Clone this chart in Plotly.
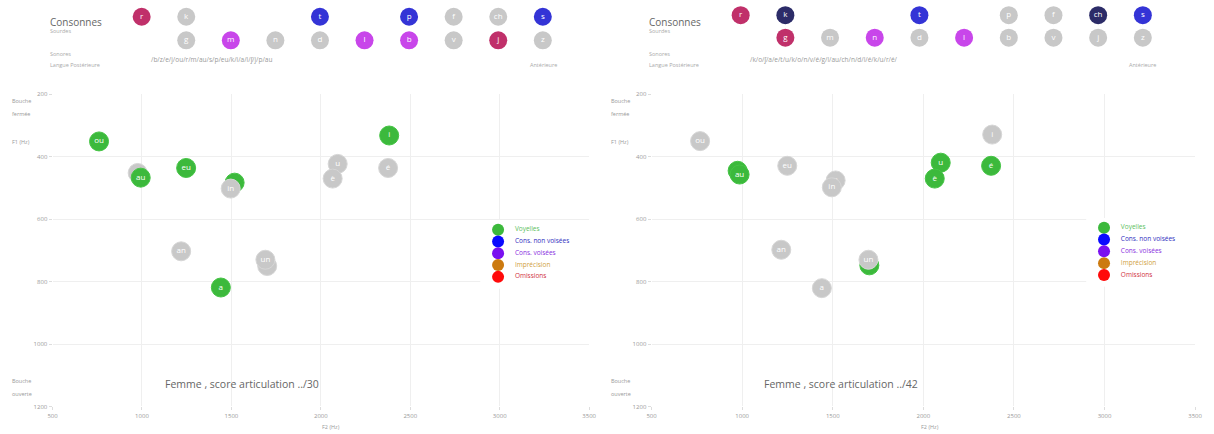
import plotly.graph_objects as go

W, H = 1214, 434

# ---------------- data ----------------
# consonant grid (columns from "langue postérieure" to "antérieure")
CONS_TOP = ["r", "k", "", "", "t", "", "p", "f", "ch", "s"]
CONS_BOT = ["", "g", "m", "n", "d", "l", "b", "v", "j", "z"]
L_TOP_STATE = ["err", "ok", "", "", "nv", "", "nv", "ok", "ok", "nv"]
L_BOT_STATE = ["", "ok", "v", "ok", "ok", "v", "v", "ok", "err", "ok"]
R_TOP_STATE = ["err", "dark", "", "", "nv", "", "ok", "ok", "dark", "nv"]
R_BOT_STATE = ["", "err", "ok", "v", "ok", "v", "ok", "ok", "ok", "ok"]

# vowels, left chart (F2, F1 in Hz), state: "voy" = green, "ok" = grey
# (labels left empty where the circle is hidden behind another one)
L_VOW = ["", "au", "ou", "eu", "", "in", "an", "", "un", "a", "u", "è", "é", "i"]
L_F2 = [976, 993, 760, 1247, 1518, 1496, 1219, 1700, 1690, 1441, 2094, 2066, 2376, 2382]
L_F1 = [452, 467, 351, 436, 483, 502, 703, 750, 730, 819, 423, 470, 436, 332]
L_STATE = ["ok", "voy", "voy", "voy", "voy", "ok", "ok", "ok", "ok", "voy", "ok", "ok", "ok", "voy"]

# vowels, right chart
R_VOW = ["ou", "", "au", "eu", "e", "in", "an", "", "un", "a", "u", "è", "é", "i"]
R_F2 = [768, 975, 986, 1249, 1516, 1495, 1216, 1702, 1697, 1440, 2096, 2063, 2374, 2380]
R_F1 = [350, 445, 457, 429, 476, 498, 698, 748, 730, 821, 419, 470, 429, 329]
R_STATE = ["ok", "voy", "voy", "ok", "ok", "ok", "ok", "voy", "ok", "ok", "voy", "voy", "voy", "ok"]

LEGEND_LABELS = ["Voyelles", "Cons. non voisées", "Cons. voisées", "Imprécision", "Omissions"]
X_TICKS = [500, 1000, 1500, 2000, 2500, 3000, 3500]
Y_TICKS = [200, 400, 600, 800, 1000, 1200]
L_PHON = "/b/z/e/j/ou/r/m/au/s/p/eu/k/i/a/l/ʃ/j/p/au"
R_PHON = "/k/o/ʃ/a/e/t/u/k/o/n/v/é/g/l/au/ch/n/d/l/é/k/u/r/é/"
L_SCORE = "Femme , score articulation ../30"
R_SCORE = "Femme , score articulation ../42"

# ---------------- styles ----------------
STATE_COL = {"ok": "#c8c8c8", "voy": "#3cb93c", "nv": "#3434d6", "v": "#c846ea",
             "err": "#c0306a", "dark": "#2c2c68"}
LEG_MARK = ["#3cb93c", "#0a0aff", "#7a10f0", "#cc7a10", "#ff0a0a"]
LEG_TXT = ["#5cc05c", "#3030c0", "#8a30e0", "#d0a040", "#d03040"]
FONT = "Open Sans, Arial, sans-serif"


def pxx(x):
    return x / W


def pyy(y):
    return 1 - y / H


fig = go.Figure()


def cons_trace(states, labels, row, xa, ya):
    xs, ys, cs, ts = [], [], [], []
    for i, (s, t) in enumerate(zip(states, labels)):
        if s:
            xs.append(i); ys.append(row); cs.append(STATE_COL[s]); ts.append(t)
    fig.add_trace(go.Scatter(
        x=xs, y=ys, text=ts, mode="markers+text", xaxis=xa, yaxis=ya,
        marker=dict(size=18, color=cs, line=dict(width=0)),
        textfont=dict(color="white", size=8, family=FONT),
        textposition="middle center", hoverinfo="skip", showlegend=False))


def vowel_traces(f2, f1, labels, states, xa, ya):
    # one trace per vowel so that later circles hide earlier labels
    for x, y, t, s in zip(f2, f1, labels, states):
        fig.add_trace(go.Scatter(
            x=[x], y=[y], text=[t], mode="markers+text", xaxis=xa, yaxis=ya,
            marker=dict(size=19, color=STATE_COL[s],
                        line=dict(width=1, color="#d6d6d6" if s == "ok" else "#45c445")),
            textfont=dict(color="white", size=8, family=FONT),
            textposition="middle center", hoverinfo="skip", showlegend=False))


def legend_traces(xa, ya):
    rows = list(range(len(LEGEND_LABELS)))
    fig.add_trace(go.Scatter(
        x=[18] * len(rows), y=rows, mode="markers", xaxis=xa, yaxis=ya,
        marker=dict(size=12, color=LEG_MARK), hoverinfo="skip", showlegend=False))
    fig.add_trace(go.Scatter(
        x=[35] * len(rows), y=rows, mode="text", text=LEGEND_LABELS, xaxis=xa, yaxis=ya,
        textposition="middle right", textfont=dict(color=LEG_TXT, size=6.5, family=FONT),
        hoverinfo="skip", showlegend=False))


# left panel
cons_trace(L_TOP_STATE, CONS_TOP, 1, "x3", "y3")
cons_trace(L_BOT_STATE, CONS_BOT, 0, "x3", "y3")
vowel_traces(L_F2, L_F1, L_VOW, L_STATE, "x", "y")
legend_traces("x5", "y5")
# right panel
cons_trace(R_TOP_STATE, CONS_TOP, 1, "x4", "y4")
cons_trace(R_BOT_STATE, CONS_BOT, 0, "x4", "y4")
vowel_traces(R_F2, R_F1, R_VOW, R_STATE, "x2", "y2")
legend_traces("x6", "y6")

axis_common = dict(showline=False, zeroline=False, gridcolor="#efefef", gridwidth=1,
                   ticks="outside", ticklen=3, tickcolor="#dddddd",
                   tickfont=dict(size=6, color="#999999", family=FONT), fixedrange=True)
ydom = [pyy(410), pyy(92)]
hidden = dict(visible=False, showgrid=False, zeroline=False, fixedrange=True)

fig.update_layout(
    width=W, height=H, margin=dict(l=0, r=0, t=0, b=0),
    paper_bgcolor="white", plot_bgcolor="white", showlegend=False,
    font=dict(family=FONT),
    xaxis=dict(domain=[pxx(48), pxx(590)], range=[500, 3500], tickvals=X_TICKS, anchor="y", **axis_common),
    yaxis=dict(domain=ydom, range=[1200, 200], tickvals=Y_TICKS, anchor="x", **axis_common),
    xaxis2=dict(domain=[pxx(653), pxx(1202)], range=[500, 3500], tickvals=X_TICKS, anchor="y2", **axis_common),
    yaxis2=dict(domain=ydom, range=[1200, 200], tickvals=Y_TICKS, anchor="x2", **axis_common),
    xaxis3=dict(domain=[pxx(48), pxx(590)], range=[-2, 10.04], anchor="y3", **hidden),
    yaxis3=dict(domain=[pyy(50), 1], range=[-0.542, 1.542], anchor="x3", **hidden),
    xaxis4=dict(domain=[pxx(653), pxx(1202)], range=[-1.995, 10.17], anchor="y4", **hidden),
    yaxis4=dict(domain=[pyy(48), 1], range=[-0.6, 1.5], anchor="x4", **hidden),
    xaxis5=dict(domain=[pxx(480), pxx(600)], range=[0, 120], anchor="y5", **hidden),
    yaxis5=dict(domain=[pyy(290), pyy(220)], range=[5, -0.8333], anchor="x5", **hidden),
    xaxis6=dict(domain=[pxx(1092), pxx(1212)], range=[0, 120], anchor="y6", **hidden),
    yaxis6=dict(domain=[pyy(288), pyy(218)], range=[5, -0.8333], anchor="x6", **hidden),
)

ann = []


def txt(x, y, s, size, color="#888888", xanchor="left"):
    ann.append(dict(x=pxx(x), y=pyy(y), xref="paper", yref="paper", text=s, showarrow=False,
                    xanchor=xanchor, yanchor="middle", font=dict(size=size, color=color, family=FONT)))


for off, phon, score in [(0, L_PHON, L_SCORE), (605, R_PHON, R_SCORE)]:
    txt(43 + off, 18, "Consonnes", 10, "#666666")
    txt(43 + off, 28, "Sourdes", 5.5, "#aaaaaa")
    txt(43 + off, 51, "Sonores", 5.5, "#aaaaaa")
    txt(43 + off, 62, "Langue Postérieure", 5.5, "#aaaaaa")
    txt(145 + off, 57, phon, 6.5, "#999999")
    txt(528 + off, 62, "Antérieure", 5.5, "#aaaaaa")
    txt(5 + off, 99, "Bouche", 5.5, "#999999")
    txt(5 + off, 112, "fermée", 5.5, "#999999")
    txt(5 + off, 141, "F1 (Hz)", 5.5, "#999999")
    txt(5 + off, 384, "Bouche", 5.5, "#999999")
    txt(5 + off, 397, "ouverte", 5.5, "#999999")
    txt(318 + off, 431, "F2 (Hz)", 5.5, "#999999")
    txt(160 + off, 387, score, 10.5, "#666666")

fig.update_layout(annotations=ann)
fig.write_html("out.html")
